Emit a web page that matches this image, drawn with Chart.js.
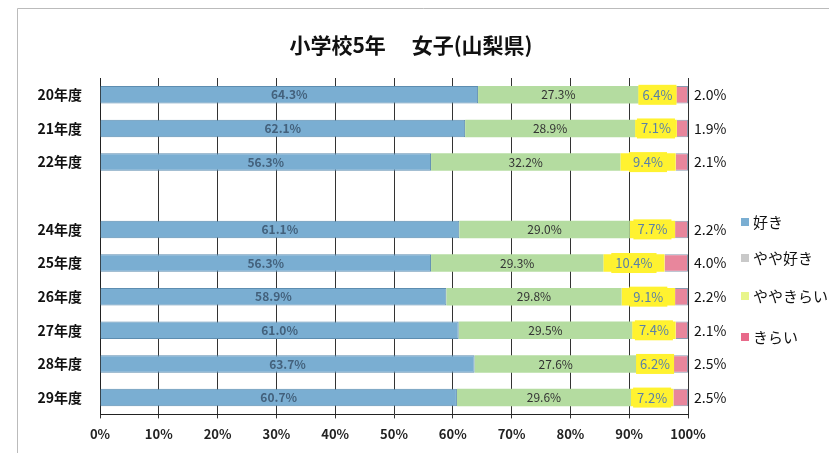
<!DOCTYPE html>
<html>
<head>
<meta charset="utf-8">
<script src="https://cdn.jsdelivr.net/npm/chart.js@4"></script>
<style>
  html, body { margin: 0; padding: 0; background: #fff; }
  #wrap { width: 829px; height: 453px; }
</style>
</head>
<body>
<div id="wrap"><canvas id="chart" width="829" height="453"></canvas></div>
<script>
// 年度ごとの回答割合 (%)
const categories = ['20年度', '21年度', '22年度', '', '24年度', '25年度', '26年度', '27年度', '28年度', '29年度'];
const suki      = [64.3, 62.1, 56.3, null, 61.1, 56.3, 58.9, 61.0, 63.7, 60.7];
const yayaSuki  = [27.3, 28.9, 32.2, null, 29.0, 29.3, 29.8, 29.5, 27.6, 29.6];
const yayaKirai = [6.4, 7.1, 9.4, null, 7.7, 10.4, 9.1, 7.4, 6.2, 7.2];
const kirai     = [2.0, 1.9, 2.1, null, 2.2, 4.0, 2.2, 2.1, 2.5, 2.5];
const seriesNames = ['好き', 'やや好き', 'ややきらい', 'きらい'];
const xTicks = [0, 10, 20, 30, 40, 50, 60, 70, 80, 90, 100];
const titleText = '小学校5年　 女子(山梨県)';

const FONT = '"Noto Sans CJK JP", "Noto Sans", sans-serif';

// 帯の中に割合を書く
const barLabels = {
  id: 'barLabels',
  afterDatasetsDraw(chart) {
    const ctx = chart.ctx;
    ctx.save();
    ctx.textBaseline = 'middle';
    chart.data.datasets.forEach((ds, di) => {
      const meta = chart.getDatasetMeta(di);
      meta.data.forEach((bar, i) => {
        const v = ds.data[i];
        if (v == null) return;
        const txt = v.toFixed(1) + '%';
        const cx = (bar.x + bar.base) / 2;
        if (di === 0) {
          ctx.font = 'bold 12px ' + FONT;
          ctx.fillStyle = '#43617c';
          ctx.textAlign = 'center';
          ctx.fillText(txt, cx, bar.y);
        } else if (di === 1) {
          ctx.font = '12px ' + FONT;
          ctx.fillStyle = '#333';
          ctx.textAlign = 'center';
          ctx.fillText(txt, cx, bar.y);
        } else if (di === 2) {
          ctx.font = '13px ' + FONT;
          const w = ctx.measureText(txt).width + 8;
          ctx.fillStyle = '#fff230';
          ctx.fillRect(cx - w / 2, bar.y - 10, w, 20);
          ctx.fillStyle = '#5a80a8';
          ctx.textAlign = 'center';
          ctx.fillText(txt, cx, bar.y);
        } else {
          ctx.font = '14px ' + FONT;
          ctx.fillStyle = '#111';
          ctx.textAlign = 'left';
          ctx.fillText(txt, chart.chartArea.right + 6, bar.y);
        }
      });
    });
    ctx.restore();
  }
};

// 外枠・タイトル・右側の凡例
const sideLegend = {
  id: 'sideLegend',
  beforeDraw(chart) {
    const ctx = chart.ctx;
    ctx.save();
    ctx.strokeStyle = '#bbb';
    ctx.lineWidth = 1;
    ctx.beginPath();
    ctx.moveTo(17.5, 453);
    ctx.lineTo(17.5, 8.5);
    ctx.lineTo(829, 8.5);
    ctx.stroke();
    ctx.font = 'bold 21px ' + FONT;
    ctx.fillStyle = '#111';
    ctx.textAlign = 'center';
    ctx.textBaseline = 'middle';
    ctx.fillText(titleText, 411, 45);
    ctx.restore();
  },
  afterDraw(chart) {
    const ctx = chart.ctx;
    const marks = ['#7aaed2', '#c9c9c9', '#e8f58a', '#e86a8a'];
    const ys = [222, 258, 296, 337];
    ctx.save();
    ctx.font = '15px ' + FONT;
    ctx.textBaseline = 'middle';
    ctx.textAlign = 'left';
    seriesNames.forEach((name, i) => {
      ctx.fillStyle = marks[i];
      ctx.fillRect(741, ys[i] - 4, 8, 8);
      ctx.fillStyle = '#111';
      ctx.fillText(name, 753, ys[i]);
    });
    ctx.restore();
  }
};

new Chart(document.getElementById('chart').getContext('2d'), {
  type: 'bar',
  data: {
    labels: categories,
    datasets: [
      { label: seriesNames[0], data: suki, backgroundColor: '#7aaed2', borderColor: '#5d8db0', borderWidth: 1 },
      { label: seriesNames[1], data: yayaSuki, backgroundColor: '#b4dca0', borderWidth: 0 },
      { label: seriesNames[2], data: yayaKirai, backgroundColor: '#fff230', borderWidth: 0 },
      { label: seriesNames[3], data: kirai, backgroundColor: '#e8869c', borderColor: '#8a9ab0', borderWidth: 1 }
    ]
  },
  options: {
    indexAxis: 'y',
    responsive: false,
    animation: false,
    layout: { padding: { left: 18, right: 141, top: 78, bottom: 3 } },
    datasets: { bar: { categoryPercentage: 1, barPercentage: 0.52 } },
    plugins: {
      legend: { display: false },
      tooltip: { enabled: false },
      title: { display: false }
    },
    scales: {
      x: {
        stacked: true,
        min: 0,
        max: 100,
        afterBuildTicks(s) { s.ticks = xTicks.map(v => ({ value: v })); },
        ticks: {
          color: '#222',
          font: { family: FONT, size: 13, weight: 'bold' },
          padding: 8,
          callback: v => v + '%'
        },
        grid: { color: '#333', lineWidth: 1, drawTicks: true, tickLength: 4 },
        border: { color: '#222', width: 1 }
      },
      y: {
        stacked: true,
        afterFit(s) { s.width = 82; },
        ticks: {
          color: '#111',
          font: { family: FONT, size: 14, weight: 'bold' },
          padding: 10
        },
        grid: { display: false },
        border: { color: '#222', width: 1 }
      }
    }
  },
  plugins: [barLabels, sideLegend]
});
</script>
</body>
</html>
